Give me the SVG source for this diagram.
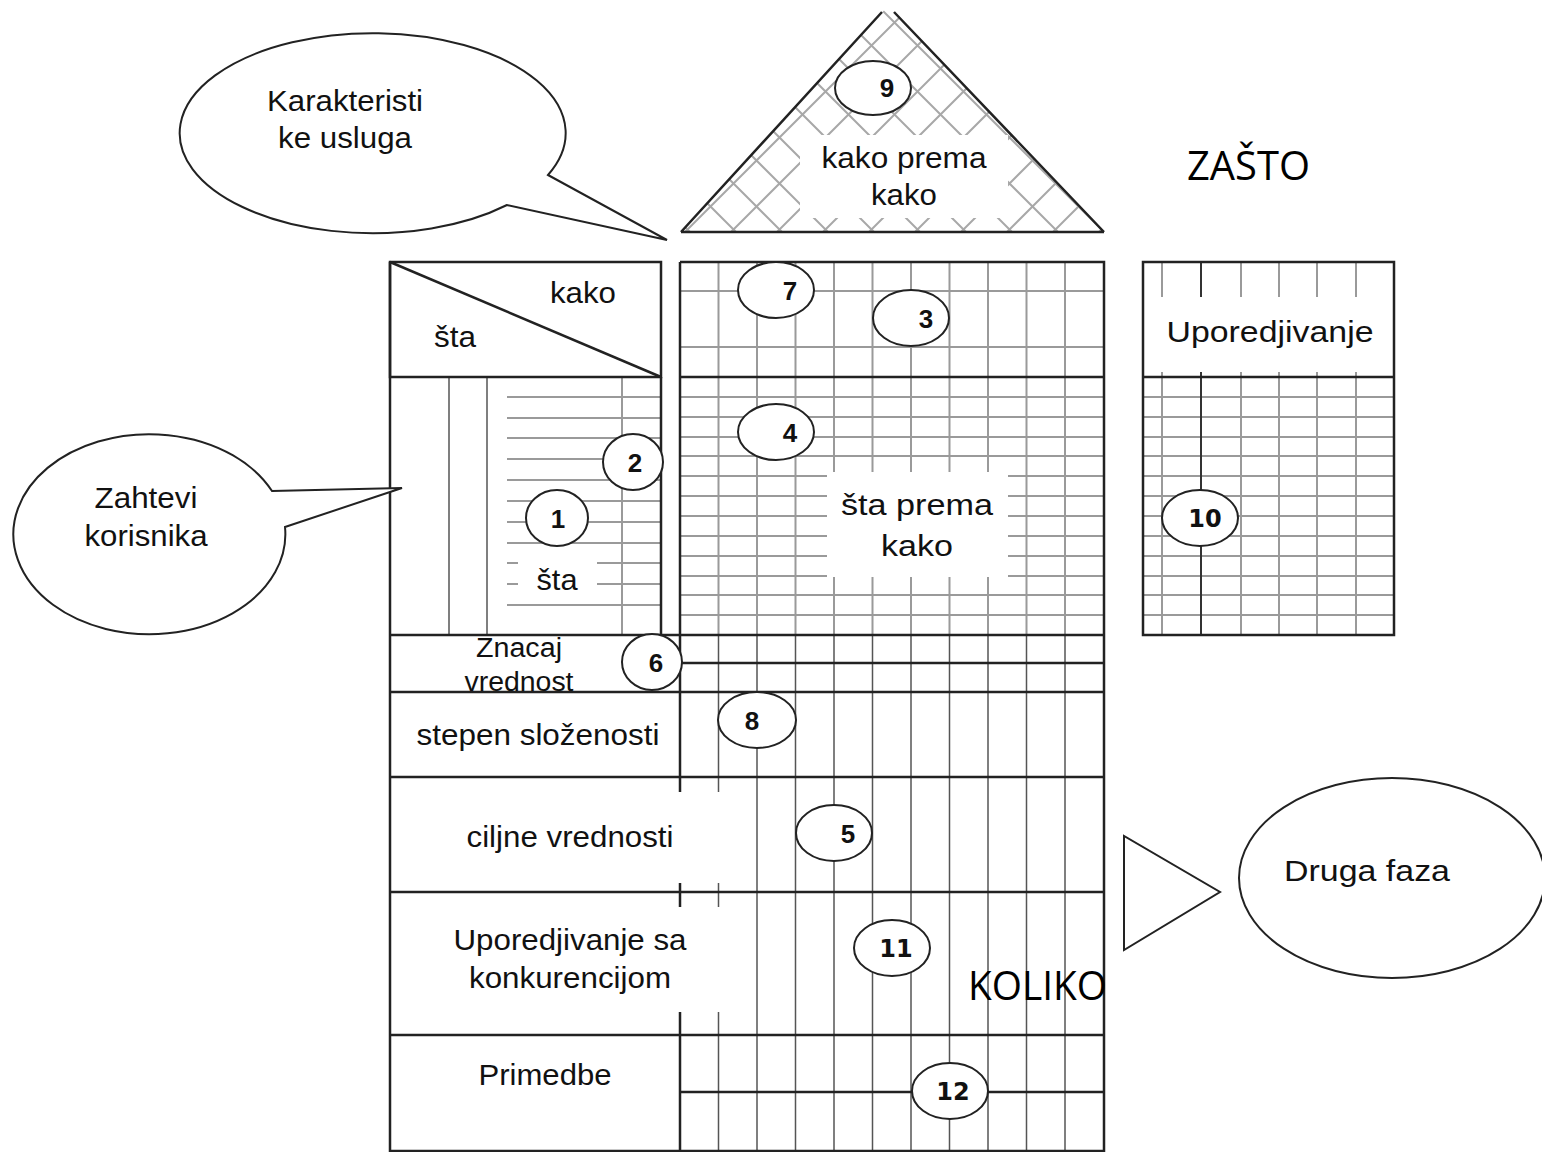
<svg xmlns="http://www.w3.org/2000/svg" width="1542" height="1152" viewBox="0 0 1542 1152">
<style>
.bd{stroke:#222;stroke-width:2.5;fill:none}
.gr{stroke:#9a9a9a;stroke-width:2;fill:none}
.gd{stroke:#555;stroke-width:1.5;fill:none}
.hx{stroke:#a8a8a8;stroke-width:2;fill:none}
.cl{fill:#fff;stroke:#222;stroke-width:2}
.bg{fill:#fff;stroke:none}
.t{font-family:"Liberation Sans",Arial,sans-serif;font-size:30px;fill:#111;text-anchor:middle}
.ts{font-family:"Liberation Sans",Arial,sans-serif;font-size:27px;fill:#111;text-anchor:middle}
.n{font-family:"Liberation Sans",Arial,sans-serif;font-weight:bold;font-size:26px;fill:#111;text-anchor:middle}
.n2{font-family:"DejaVu Sans",sans-serif;font-weight:bold;font-size:24px;fill:#111;text-anchor:middle}
.big{font-family:"Open Sans",sans-serif;font-size:40px;fill:#000}
</style>
<defs>
<clipPath id="roofclip"><polygon points="681,232 888,6 1104,232"/></clipPath>
</defs>

<g id="roof">
<path class="hx" clip-path="url(#roofclip)" d="M455 232L681 6M501 232L727 6M547 232L773 6M593 232L819 6M639 232L865 6M685 232L911 6M731 232L957 6M777 232L1003 6M823 232L1049 6M869 232L1095 6M915 232L1141 6M961 232L1187 6M1007 232L1233 6M1053 232L1279 6M1099 232L1325 6M464 6L690 232M510 6L736 232M556 6L782 232M602 6L828 232M648 6L874 232M694 6L920 232M740 6L966 232M786 6L1012 232M832 6L1058 232M878 6L1104 232M924 6L1150 232M970 6L1196 232M1016 6L1242 232M1062 6L1288 232"/>
<rect class="bg" x="800" y="135" width="208" height="83"/>
<path class="bd" d="M681 232L882 12M894 12L1104 232M681 232L1104 232"/>
<text class="t" x="904" y="168" textLength="165" lengthAdjust="spacingAndGlyphs">kako prema</text>
<text class="t" x="904" y="205" textLength="66" lengthAdjust="spacingAndGlyphs">kako</text>
</g>

<g id="main-grid">
<path class="gr" d="M718.5 262V635M757 262V635M795.5 262V635M834 262V635M872.5 262V635M911 262V635M949.5 262V635M988 262V635M1026.5 262V635M1065 262V635"/>
<path class="gr" d="M680 291H1104M680 347H1104"/>
<path class="gr" d="M680 397H1104M680 417H1104M680 437H1104M680 456H1104M680 476H1104M680 496H1104M680 516H1104M680 536H1104M680 556H1104M680 576H1104M680 595H1104M680 615H1104"/>
<path class="gd" d="M718.5 635V1151M757 635V1151M795.5 635V1151M834 635V1151M872.5 635V1151M911 635V1151M949.5 635V1151M988 635V1151M1026.5 635V1151M1065 635V1151"/>
<rect class="bg" x="827" y="472" width="181" height="105"/>
<text class="t" x="917" y="515" textLength="152" lengthAdjust="spacingAndGlyphs">šta prema</text>
<text class="t" x="917" y="556" textLength="72" lengthAdjust="spacingAndGlyphs">kako</text>
</g>

<g id="left-block">
<path class="gd" d="M449 377V635M487 377V635"/>
<path class="gr" d="M622 377V635"/>
<path class="gr" d="M507 397H661M507 418H661M507 438H661M507 459H661M507 480H661M507 501H661M507 522H661M507 543H661M507 563H661M507 584H661M507 605H661"/>
<rect class="bg" x="518" y="560" width="79" height="38"/>
<text class="t" x="557" y="590" textLength="41" lengthAdjust="spacingAndGlyphs">šta</text>
</g>

<g id="row-labels">
<rect class="bg" x="392" y="792" width="334" height="91"/>
<rect class="bg" x="392" y="907" width="334" height="105"/>
</g>

<g id="frame">
<rect class="bd" x="390" y="262" width="271" height="115"/>
<path class="bd" d="M390 262L661 377"/>
<path class="bd" d="M680 262H1104V1151H390V262M661 377V635M680 262V777M680 777V792M680 883V907M680 1012V1151M680 377H1104M390 635H1104M680 663H1104M390 692H1104M390 777H1104M390 892H1104M390 1035H1104M680 1092H1104"/>
<path class="bg" d="M392 792h334v91h-334zM392 907h334v105h-334z"/>
</g>

<g id="right-box">
<path class="gr" d="M1162 262V297M1241 262V297M1279 262V297M1317 262V297M1356 262V297M1162 372V635M1241 372V635M1279 372V635M1317 372V635M1356 372V635"/>
<path class="gr" d="M1143 397H1394M1143 417H1394M1143 437H1394M1143 456H1394M1143 476H1394M1143 496H1394M1143 516H1394M1143 536H1394M1143 556H1394M1143 576H1394M1143 595H1394M1143 615H1394"/>
<path class="bd" d="M1201 262V297M1201 372V635" style="stroke:#333;stroke-width:2"/>
<rect class="bd" x="1143" y="262" width="251" height="373"/>
<path class="bd" d="M1143 377H1394"/>
<text class="t" x="1270" y="342" textLength="207" lengthAdjust="spacingAndGlyphs">Uporedjivanje</text>
</g>

<g id="labels">
<text class="t" x="583" y="303" textLength="66" lengthAdjust="spacingAndGlyphs">kako</text>
<text class="t" x="455" y="347" textLength="42" lengthAdjust="spacingAndGlyphs">šta</text>
<text class="ts" x="519" y="657" textLength="86" lengthAdjust="spacingAndGlyphs">Znacaj</text>
<text class="ts" x="519" y="691" textLength="109" lengthAdjust="spacingAndGlyphs">vrednost</text>
<text class="t" x="538" y="745" textLength="243" lengthAdjust="spacingAndGlyphs">stepen složenosti</text>
<text class="t" x="570" y="847" textLength="207" lengthAdjust="spacingAndGlyphs">ciljne vrednosti</text>
<text class="t" x="570" y="950" textLength="233" lengthAdjust="spacingAndGlyphs">Uporedjivanje sa</text>
<text class="t" x="570" y="988" textLength="202" lengthAdjust="spacingAndGlyphs">konkurencijom</text>
<text class="t" x="545" y="1085" textLength="133" lengthAdjust="spacingAndGlyphs">Primedbe</text>
<text class="big" x="1187" y="180" textLength="123" lengthAdjust="spacingAndGlyphs">ZAŠTO</text>
<text class="big" x="968" y="1000" textLength="139" lengthAdjust="spacingAndGlyphs">KOLIKO</text>
</g>

<g id="circle-9"><ellipse class="cl" cx="873" cy="88" rx="38" ry="27"/><text class="n" x="887" y="97">9</text></g>
<g id="circle-7"><ellipse class="cl" cx="776" cy="290" rx="38" ry="28"/><text class="n" x="790" y="300">7</text></g>
<g id="circle-3"><ellipse class="cl" cx="911" cy="318" rx="38" ry="28"/><text class="n" x="926" y="328">3</text></g>
<g id="circle-4"><ellipse class="cl" cx="776" cy="432" rx="38" ry="28"/><text class="n" x="790" y="442">4</text></g>
<g id="circle-2"><ellipse class="cl" cx="633" cy="462" rx="30" ry="28"/><text class="n" x="635" y="472">2</text></g>
<g id="circle-1"><ellipse class="cl" cx="557" cy="518" rx="31" ry="28"/><text class="n" x="558" y="528">1</text></g>
<g id="circle-6"><ellipse class="cl" cx="652" cy="662" rx="30" ry="28"/><text class="n" x="656" y="672">6</text></g>
<g id="circle-8"><ellipse class="cl" cx="757" cy="720" rx="39" ry="28"/><text class="n" x="752" y="730">8</text></g>
<g id="circle-5"><ellipse class="cl" cx="834" cy="833" rx="38" ry="28"/><text class="n" x="848" y="843">5</text></g>
<g id="circle-10"><ellipse class="cl" cx="1200" cy="518" rx="38" ry="28"/><text class="n2" x="1205" y="527">10</text></g>
<g id="circle-11"><ellipse class="cl" cx="892" cy="948" rx="38" ry="28"/><text class="n2" x="896" y="957">11</text></g>
<g id="circle-12"><ellipse class="cl" cx="950" cy="1091" rx="38" ry="28"/><text class="n2" x="953" y="1100">12</text></g>

<g id="callout-karakteristike">
<path class="cl" d="M548 175L667 240L507 205A193 100 0 1 1 548 175Z"/>
<text class="t" x="345" y="111" textLength="156" lengthAdjust="spacingAndGlyphs">Karakteristi</text>
<text class="t" x="345" y="148" textLength="134" lengthAdjust="spacingAndGlyphs">ke usluga</text>
</g>

<g id="callout-zahtevi">
<path class="cl" d="M272 491L402 488L285 527A136 100 0 1 1 272 491Z"/>
<text class="t" x="146" y="508" textLength="103" lengthAdjust="spacingAndGlyphs">Zahtevi</text>
<text class="t" x="146" y="546" textLength="123" lengthAdjust="spacingAndGlyphs">korisnika</text>
</g>

<g id="connectors">
<polygon class="cl" points="1124,836 1124,950 1220,892"/>
</g>

<g id="druga-faza">
<ellipse class="cl" cx="1392" cy="878" rx="153" ry="100"/>
<text class="t" x="1367" y="881" textLength="166" lengthAdjust="spacingAndGlyphs">Druga faza</text>
</g>
</svg>
